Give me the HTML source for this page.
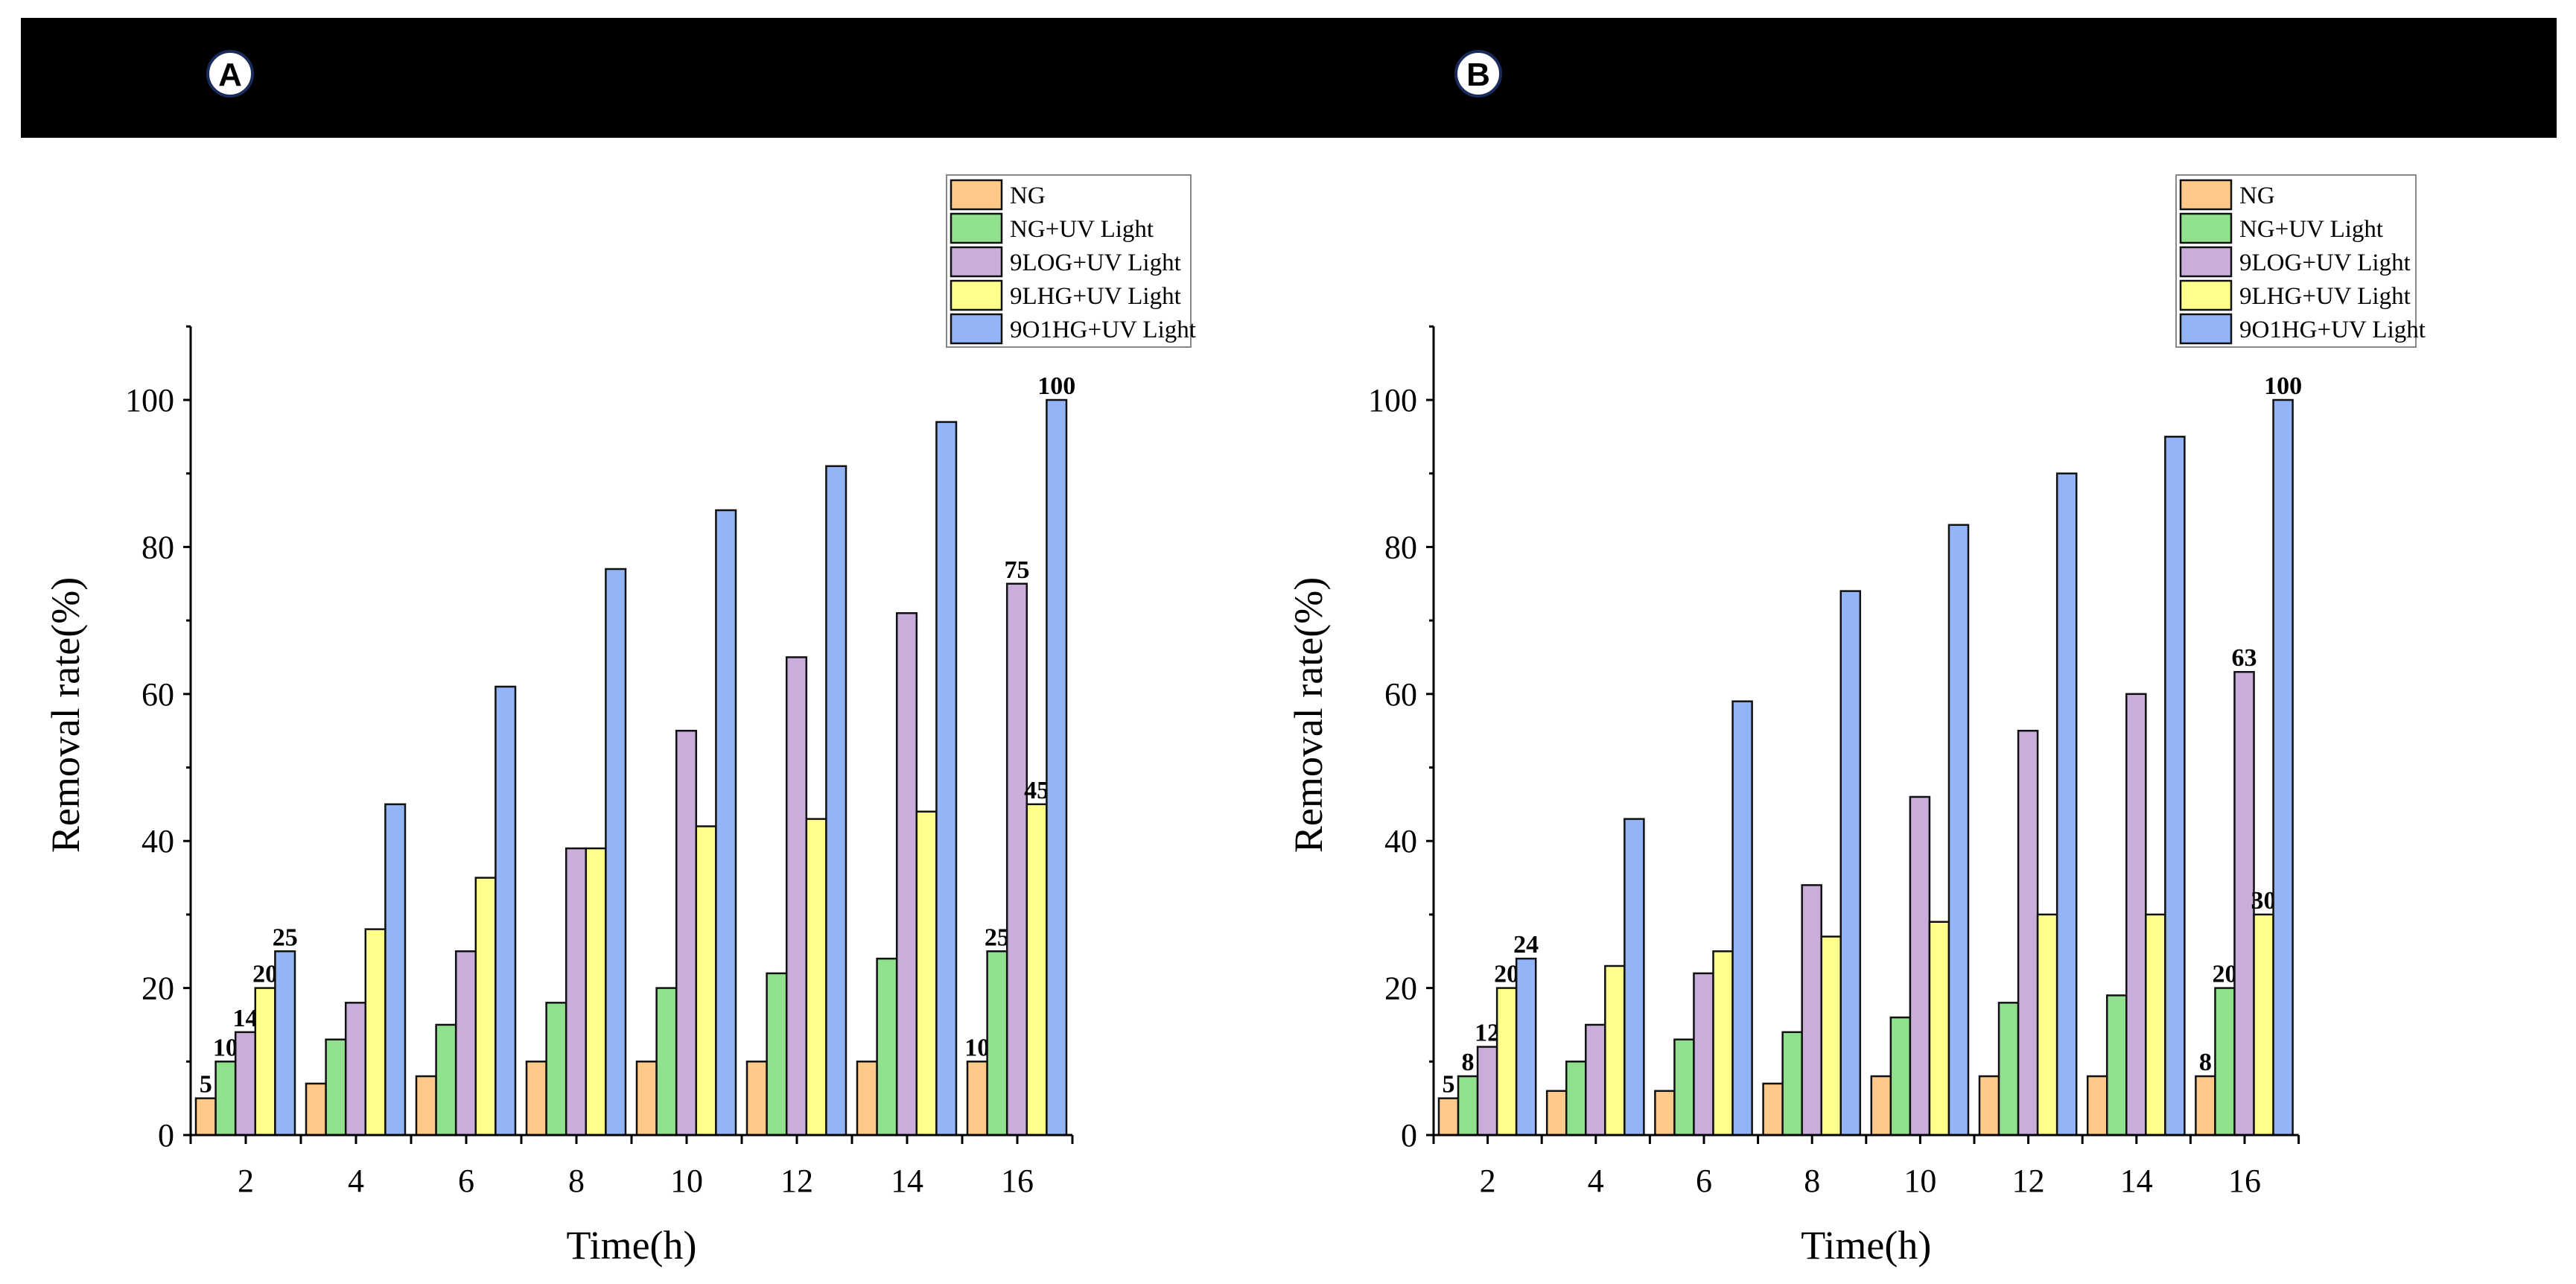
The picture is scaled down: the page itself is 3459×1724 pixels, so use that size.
<!DOCTYPE html>
<html><head><meta charset="utf-8">
<style>
html,body{margin:0;padding:0;background:#fff;}
svg{display:block;font-family:"Liberation Serif",serif;}
</style></head>
<body>
<svg id="fig" width="3459" height="1724" viewBox="0 0 3459 1724" xmlns="http://www.w3.org/2000/svg">
<rect x="0" y="0" width="3459" height="1724" fill="#fff"/>
<rect x="28" y="24" width="3405" height="161" fill="#000"/>
<g>
<circle cx="309" cy="99" r="30" fill="#fff" stroke="#1a2a5a" stroke-width="4"/>
<text x="309" y="115" text-anchor="middle" font-family="Liberation Sans, sans-serif" font-weight="bold" font-size="44" fill="#000">A</text>
</g>
<g>
<circle cx="1985" cy="99" r="30" fill="#fff" stroke="#1a2a5a" stroke-width="4"/>
<text x="1985" y="115" text-anchor="middle" font-family="Liberation Sans, sans-serif" font-weight="bold" font-size="44" fill="#000">B</text>
</g>
<g id="chartA"></g>
<g id="chartB"></g>
</svg>
<script>
const categories = [2, 4, 6, 8, 10, 12, 14, 16];
const seriesNames = ["NG", "NG+UV Light", "9LOG+UV Light", "9LHG+UV Light", "9O1HG+UV Light"];
const yTicks = [0, 20, 40, 60, 80, 100];
const aNG = [5, 7, 8, 10, 10, 10, 10, 10];
const aNGUV = [10, 13, 15, 18, 20, 22, 24, 25];
const aLOG = [14, 18, 25, 39, 55, 65, 71, 75];
const aLHG = [20, 28, 35, 39, 42, 43, 44, 45];
const aOIHG = [25, 45, 61, 77, 85, 91, 97, 100];
const bNG = [5, 6, 6, 7, 8, 8, 8, 8];
const bNGUV = [8, 10, 13, 14, 16, 18, 19, 20];
const bLOG = [12, 15, 22, 34, 46, 55, 60, 63];
const bLHG = [20, 23, 25, 27, 29, 30, 30, 30];
const bOIHG = [24, 43, 59, 74, 83, 90, 95, 100];
const colors = ["#FFC98A", "#90E08E", "#C9AEDC", "#FFFF8C", "#93B5F7"];
const NS = "http://www.w3.org/2000/svg";
function mk(tag, attrs, parent) {
  const e = document.createElementNS(NS, tag);
  for (const k in attrs) e.setAttribute(k, attrs[k]);
  parent.appendChild(e);
  return e;
}
function drawChart(g, series, ox, groupW, legX, legW, key) {
  const y0 = 1524, yPer = 9.87, yMax = 110;
  const yS = v => y0 - v * yPer;
  const xEnd = ox + groupW * categories.length;
  const pad = 7, bw = (groupW - 2 * pad - 1) / 5;
  // bars
  categories.forEach((c, i) => {
    series.forEach((s, j) => {
      const x = ox + i * groupW + pad + j * bw;
      const r = mk('rect', {x: x, y: yS(s[i]), width: bw, height: y0 - yS(s[i]), fill: colors[j], stroke: '#111', 'stroke-width': 2.5}, g);
      
      
      if (i === 0 || i === categories.length - 1) {
        const t = mk('text', {x: x + bw / 2, y: yS(s[i]) - 8, 'text-anchor': 'middle', 'font-size': 34, 'font-weight': 'bold'}, g);
        t.textContent = s[i];
        
        
      }
    });
  });
  // axes
  const ya = mk('line', {x1: ox, y1: yS(yMax), x2: ox, y2: y0 + 12, stroke: '#000', 'stroke-width': 3}, g);
  
  
  const xa = mk('line', {x1: ox - 10, y1: y0, x2: xEnd, y2: y0, stroke: '#000', 'stroke-width': 3}, g);
  
  
  for (let v = 0; v <= yMax; v += 10) {
    const major = v % 20 === 0;
    mk('line', {x1: ox - (major ? 10 : 6), y1: yS(v), x2: ox, y2: yS(v), stroke: '#000', 'stroke-width': 3}, g);
  }
  yTicks.forEach(v => {
    const t = mk('text', {x: ox - 22, y: yS(v) + 15, 'text-anchor': 'end', 'font-size': 44}, g);
    t.textContent = v;
    
    
  });
  for (let i = 0; i <= categories.length; i++) {
    mk('line', {x1: ox + i * groupW, y1: y0, x2: ox + i * groupW, y2: y0 + 12, stroke: '#000', 'stroke-width': 3}, g);
  }
  categories.forEach((c, i) => {
    const cx = ox + (i + 0.5) * groupW;
    mk('line', {x1: cx, y1: y0, x2: cx, y2: y0 + 12, stroke: '#000', 'stroke-width': 3}, g);
    const t = mk('text', {x: cx, y: y0 + 76, 'text-anchor': 'middle', 'font-size': 44}, g);
    t.textContent = c;
    
    
  });
  const yt = mk('text', {x: 0, y: 0, 'text-anchor': 'middle', 'font-size': 54, transform: 'translate(' + (ox - 150) + ',960) rotate(-90)'}, g);
  yt.textContent = 'Removal rate(%)';
  
  
  const xt = mk('text', {x: (ox + xEnd) / 2, y: 1690, 'text-anchor': 'middle', 'font-size': 54}, g);
  xt.textContent = 'Time(h)';
  
  
  // legend
  const lg = mk('g', {}, g);
  
  
  mk('rect', {x: legX, y: 235, width: legW, height: 231, fill: '#fff', stroke: '#888', 'stroke-width': 2}, lg);
  seriesNames.forEach((n, j) => {
    const yy = 242 + j * 45;
    const sw = mk('rect', {x: legX + 6, y: yy, width: 68, height: 39, fill: colors[j], stroke: '#111', 'stroke-width': 2.5}, lg);
    
    
    const t = mk('text', {x: legX + 85, y: yy + 31, 'font-size': 33}, lg);
    t.textContent = n;
    
    
  });
}
drawChart(document.getElementById('chartA'), [aNG, aNGUV, aLOG, aLHG, aOIHG], 256, 148, 1271, 328, 'a');
drawChart(document.getElementById('chartB'), [bNG, bNGUV, bLOG, bLHG, bOIHG], 1925, 145.2, 2922, 322, 'b');
</script>
</body></html>
